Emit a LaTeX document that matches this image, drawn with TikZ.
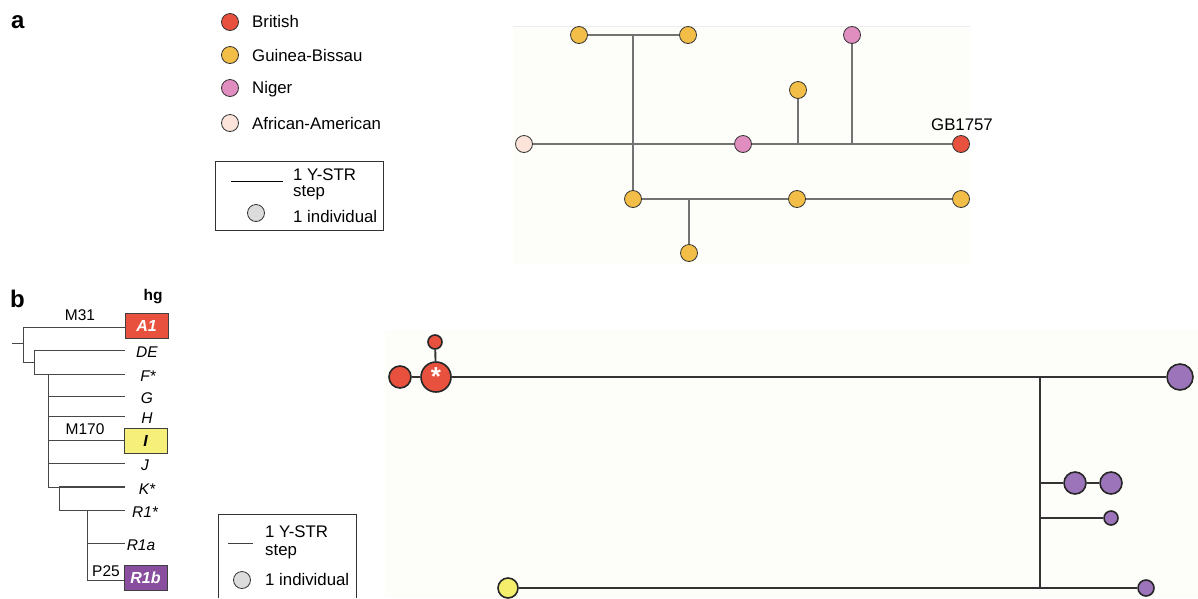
\documentclass[tikz,border=0pt]{standalone}
\usepackage{fontspec}
\setmainfont{Liberation Sans}
\definecolor{brit}{HTML}{E8513D}
\definecolor{gbc}{HTML}{F2BE48}
\definecolor{nig}{HTML}{E08DBF}
\definecolor{aac}{HTML}{FCE4DA}
\definecolor{lgray}{HTML}{DCDCDC}
\definecolor{purc}{HTML}{9C74BA}
\definecolor{purbox}{HTML}{8A4E9E}
\definecolor{yelbox}{HTML}{F6F07A}
\definecolor{yelc}{HTML}{F5EE6C}
\definecolor{bgc}{RGB}{253,253,250}
\begin{document}
\begin{tikzpicture}[x=1pt,y=-1pt,
  font=\fontsize{16.8}{19}\selectfont,
  ind/.style={circle, draw=black!80, line width=0.8pt, inner sep=0pt, minimum size=17pt},
  indb/.style={circle, draw=black!85, line width=1.6pt, inner sep=0pt},
  txt/.style={anchor=base west, inner sep=0pt},
  panel/.style={font=\fontsize{24}{24}\bfseries\selectfont, anchor=base west, inner sep=0pt},
  edgeA/.style={draw=black!55, line width=1.4pt},
  edgeB/.style={draw=black!80, line width=1.9pt},
  tree/.style={draw=black!72, line width=1pt},
  hgbox/.style={draw=black!75, line width=0.8pt, minimum width=43pt, minimum height=25pt, inner sep=0pt, font=\fontsize{16}{16}\bfseries\itshape\selectfont},
  hglab/.style={inner sep=0pt, font=\fontsize{15.5}{16}\itshape\selectfont},
  mlab/.style={anchor=base, inner sep=0pt, font=\fontsize{15.5}{16}\selectfont},
  legbox/.style={draw=black!80, line width=0.8pt}
]
\useasboundingbox (0,0) rectangle (1198,598);
% backgrounds
\fill[bgc] (513,26) rectangle (970,265);
\draw[black!7, line width=0.6pt] (513,26) -- (970,26);
\fill[bgc] (385,330) rectangle (1198,598);

% panel labels
\node[panel] (pa) at (11,28) {a};
\node[panel] (pb) at (10,307) {b};

% ---------- legend a ----------
\node[ind, fill=brit] (lc1) at (230,22) {};
\node[txt] (lt1) at (252,27) {British};
\node[ind, fill=gbc] (lc2) at (230,55) {};
\node[txt] (lt2) at (252,61) {Guinea-Bissau};
\node[ind, fill=nig] (lc3) at (230,88) {};
\node[txt] (lt3) at (252,93) {Niger};
\node[ind, fill=aac] (lc4) at (230,123) {};
\node[txt] (lt4) at (252,129) {African-American};

\draw[legbox] (215,161) rectangle (383,230);
\coordinate (lsa1) at (231,181);
\coordinate (lsa2) at (283,181);
\draw[black, line width=0.9pt] (lsa1) -- (lsa2);
\node[txt] (ls1) at (293,180) {1 Y-STR};
\node[txt] (ls2) at (293,196) {step};
\node[ind, fill=lgray] (lsc) at (256,213) {};
\node[txt] (ls3) at (293,222) {1 individual};

% ---------- network a ----------
\node[ind, fill=gbc] (a1) at (579,35) {};
\node[ind, fill=gbc] (a2) at (688,35) {};
\node[ind, fill=nig] (a3) at (852,35) {};
\node[ind, fill=gbc] (a4) at (798,90) {};
\node[ind, fill=aac] (a5) at (524,144) {};
\node[ind, fill=nig] (a6) at (743,144) {};
\node[ind, fill=brit] (a7) at (961,144) {};
\node[ind, fill=gbc] (a8) at (633,199) {};
\node[ind, fill=gbc] (a9) at (797,199) {};
\node[ind, fill=gbc] (a10) at (961,199) {};
\node[ind, fill=gbc] (a11) at (689,253) {};
\node[anchor=base, inner sep=0pt] (gbl) at (962,130) {GB1757};
\coordinate (j1) at (633,35);
\coordinate (j3) at (798,144);
\coordinate (j4) at (852,144);
\coordinate (j5) at (689,199);
\draw[edgeA] (a1) -- (a2);
\draw[edgeA] (j1) -- (a8);
\draw[edgeA] (a5) -- (a6);
\draw[edgeA] (a6) -- (a7);
\draw[edgeA] (j3) -- (a4);
\draw[edgeA] (j4) -- (a3);
\draw[edgeA] (a8) -- (a9);
\draw[edgeA] (a9) -- (a10);
\draw[edgeA] (j5) -- (a11);

% ---------- tree b ----------
\node[anchor=base, inner sep=0pt, font=\fontsize{15.5}{16}\bfseries\selectfont] (hg) at (153,300) {hg};
\node[hgbox, fill=brit, text=white] (A1) at (146.5,326) {A1};
\node[hgbox, fill=yelbox, text=black] (I) at (145.5,440.5) {I};
\node[hgbox, fill=purbox, text=white] (R1b) at (145.5,577.5) {R1b};
\node[mlab] (m31) at (80,320) {M31};
\node[mlab] (m170) at (85,434) {M170};
\node[mlab] (p25) at (106,576) {P25};

\node[hglab] (DE) at (147,352) {DE};
\node[hglab] (F) at (148,376) {F*};
\node[hglab] (G) at (147,398) {G};
\node[hglab] (H) at (147,418) {H};
\node[hglab] (J) at (145,465) {J};
\node[hglab] (K) at (147,489) {K*};
\node[hglab] (R1s) at (145,512) {R1*};
\node[hglab] (R1a) at (141,545) {R1a};

\coordinate (r0) at (12,343);
\coordinate (r1) at (23,343);
\coordinate (v1t) at (23,327);
\coordinate (v1b) at (23,362);
\coordinate (v2b) at (34,362);
\coordinate (v2t) at (34,350);
\coordinate (v2d) at (34,374);
\coordinate (eDE) at (125,350);
\coordinate (eF) at (125,374);
\coordinate (v3t) at (48,374);
\coordinate (v3b) at (48,487);
\coordinate (v3g) at (48,396);
\coordinate (eG) at (125,396);
\coordinate (v3h) at (48,416);
\coordinate (eH) at (125,416);
\coordinate (v3i) at (48,440);
\coordinate (v3j) at (48,463);
\coordinate (eJ) at (125,463);
\coordinate (eK) at (125,487);
\coordinate (v4t) at (59,487);
\coordinate (v4b) at (59,510);
\coordinate (eR1s) at (125,510);
\coordinate (v5t) at (87,510);
\coordinate (v5b) at (87,580);
\coordinate (v5a) at (87,543);
\coordinate (eR1a) at (125,543);

\draw[tree] (r0) -- (r1);
\draw[tree] (v1t) -- (v1b);
\draw[tree] (v1t) -- (v1t -| A1.west);
\draw[tree] (v1b) -- (v2b);
\draw[tree] (v2t) -- (v2d);
\draw[tree] (v2t) -- (eDE);
\draw[tree] (v2d) -- (eF);
\draw[tree] (v3t) -- (v3b);
\draw[tree] (v3g) -- (eG);
\draw[tree] (v3h) -- (eH);
\draw[tree] (v3i) -- (v3i -| I.west);
\draw[tree] (v3j) -- (eJ);
\draw[tree] (v3b) -- (eK);
\draw[tree, line width=1.7pt] (v4t) -- (eK);
\draw[tree] (v4t) -- (v4b);
\draw[tree] (v4b) -- (eR1s);
\draw[tree] (v5t) -- (v5b);
\draw[tree] (v5a) -- (eR1a);
\draw[tree] (v5b) -- (v5b -| R1b.west);

% legend b
\coordinate (lb1) at (218,598);
\coordinate (lb2) at (218,514);
\coordinate (lb3) at (356,514);
\coordinate (lb4) at (356,598);
\draw[legbox] (lb1) -- (lb2) -- (lb3) -- (lb4);
\coordinate (lsb1) at (228,543);
\coordinate (lsb2) at (253,543);
\draw[black!75, line width=0.9pt] (lsb1) -- (lsb2);
\node[txt] (lbs1) at (265,537) {1 Y-STR};
\node[txt] (lbs2) at (265,555) {step};
\node[ind, fill=lgray] (lbc) at (242,580) {};
\node[txt] (lbs3) at (265,585) {1 individual};

% ---------- network b ----------
\node[indb, fill=brit, minimum size=14pt] (b1) at (435,342) {};
\node[indb, fill=brit, minimum size=22pt] (b2) at (400,377) {};
\node[indb, fill=brit, minimum size=30pt, text=white, font=\fontsize{26}{26}\bfseries\selectfont] (b3) at (436,377) {\raisebox{-7pt}{*}};
\node[indb, fill=purc, minimum size=26pt] (b4) at (1180,377) {};
\node[indb, fill=purc, minimum size=22pt] (b5) at (1075,483) {};
\node[indb, fill=purc, minimum size=22pt] (b6) at (1111,483) {};
\node[indb, fill=purc, minimum size=14pt] (b7) at (1111,518) {};
\node[indb, fill=yelc, minimum size=20pt] (b8) at (508,588) {};
\node[indb, fill=purc, minimum size=16pt] (b9) at (1146,588) {};
\coordinate (k1) at (1040,377);
\coordinate (k2) at (1040,483);
\coordinate (k3) at (1040,518);
\coordinate (k4) at (1040,588);
\draw[edgeB] (b3) -- (b1);
\draw[edgeB] (b2) -- (b3);
\draw[edgeB] (b3) -- (b4);
\draw[edgeB] (k1) -- (k4);
\draw[edgeB] (k2) -- (b5);
\draw[edgeB] (b5) -- (b6);
\draw[edgeB] (k3) -- (b7);
\draw[edgeB] (b8) -- (b9);
\end{tikzpicture}
\end{document}
